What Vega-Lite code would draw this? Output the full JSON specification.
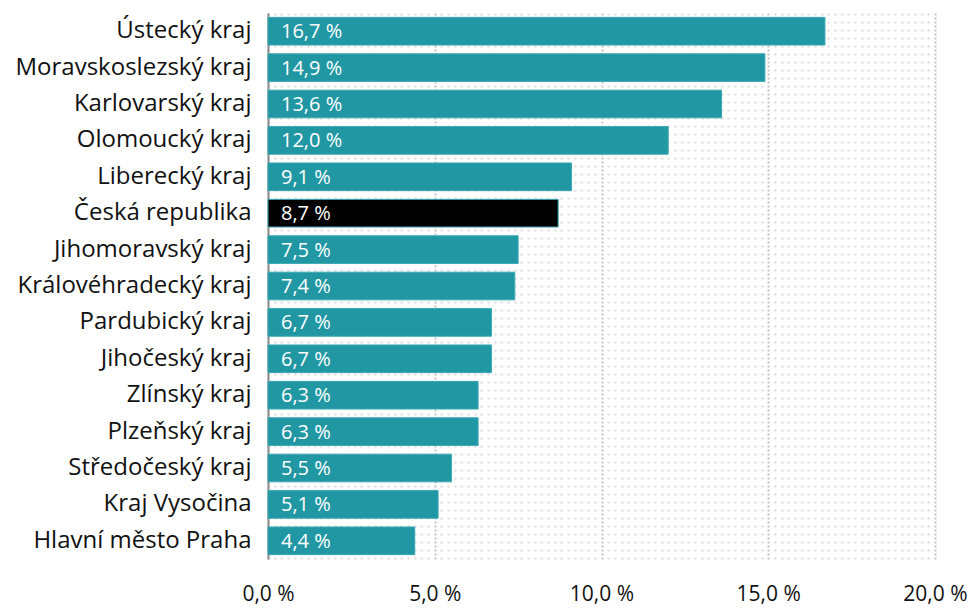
{
  "$schema": "https://vega.github.io/schema/vega-lite/v6.json",
  "width": 667,
  "height": 546,
  "autosize": {"type": "none"},
  "padding": {"left": 268, "top": 13, "right": 38, "bottom": 49},
  "background": "white",
  "config": {
    "view": {"stroke": null},
    "font": "Open Sans",
    "locale": {"number": {"decimal": ",", "thousands": " ", "grouping": [3], "currency": ["", " Kč"]}}
  },
  "data": {
    "values": [
      {"region": "Ústecký kraj", "value": 16.7, "cr": "no"},
      {"region": "Moravskoslezský kraj", "value": 14.9, "cr": "no"},
      {"region": "Karlovarský kraj", "value": 13.6, "cr": "no"},
      {"region": "Olomoucký kraj", "value": 12.0, "cr": "no"},
      {"region": "Liberecký kraj", "value": 9.1, "cr": "no"},
      {"region": "Česká republika", "value": 8.7, "cr": "yes"},
      {"region": "Jihomoravský kraj", "value": 7.5, "cr": "no"},
      {"region": "Královéhradecký kraj", "value": 7.4, "cr": "no"},
      {"region": "Pardubický kraj", "value": 6.7, "cr": "no"},
      {"region": "Jihočeský kraj", "value": 6.7, "cr": "no"},
      {"region": "Zlínský kraj", "value": 6.3, "cr": "no"},
      {"region": "Plzeňský kraj", "value": 6.3, "cr": "no"},
      {"region": "Středočeský kraj", "value": 5.5, "cr": "no"},
      {"region": "Kraj Vysočina", "value": 5.1, "cr": "no"},
      {"region": "Hlavní město Praha", "value": 4.4, "cr": "no"}
    ]
  },
  "transform": [
    {"calculate": "format(datum.value, '.1f') + ' %'", "as": "label"}
  ],
  "encoding": {
    "y": {
      "field": "region",
      "type": "nominal",
      "sort": null,
      "scale": {"paddingInner": 0.24, "paddingOuter": 0.12},
      "axis": {
        "title": null,
        "ticks": false,
        "domain": true,
        "domainColor": "#8c8c8c",
        "domainWidth": 2,
        "labelFont": "Open Sans",
        "labelFontSize": 24,
        "labelColor": "#111111",
        "labelPadding": 17,
        "labelLimit": 300
      }
    }
  },
  "layer": [
    {
      "mark": {"type": "bar", "stroke": "#3aa9b3", "strokeWidth": 1},
      "encoding": {
        "x": {
          "field": "value",
          "type": "quantitative",
          "scale": {"domain": [0, 20], "nice": false},
          "axis": {
            "title": null,
            "tickCount": 100,
            "ticks": false,
            "domain": false,
            "labelOverlap": false,
            "labelFlush": false,
            "labelExpr": "abs(datum.value - round(datum.value / 5) * 5) < 0.001 ? format(datum.value, '.1f') + ' %' : ''",
            "labelFont": "Open Sans",
            "labelFontSize": 21,
            "labelColor": "#111111",
            "labelPadding": 24,
            "grid": true,
            "gridColor": {"condition": {"test": "abs(datum.value - round(datum.value / 5) * 5) < 0.001", "value": "#c4c4c4"}, "value": "#d9d9d9"},
            "gridWidth": 2,
            "gridDash": {"condition": {"test": "abs(datum.value - round(datum.value / 5) * 5) < 0.001", "value": [2, 2]}, "value": [2, 6]}
          }
        },
        "color": {
          "field": "cr",
          "type": "nominal",
          "scale": {"domain": ["no", "yes"], "range": ["#2197a3", "#000000"]},
          "legend": null
        }
      }
    },
    {
      "mark": {"type": "text", "align": "left", "baseline": "middle", "dx": 13, "dy": 1, "color": "white", "font": "Open Sans", "fontSize": 20},
      "encoding": {
        "x": {"datum": 0, "type": "quantitative"},
        "text": {"field": "label"}
      }
    }
  ]
}
